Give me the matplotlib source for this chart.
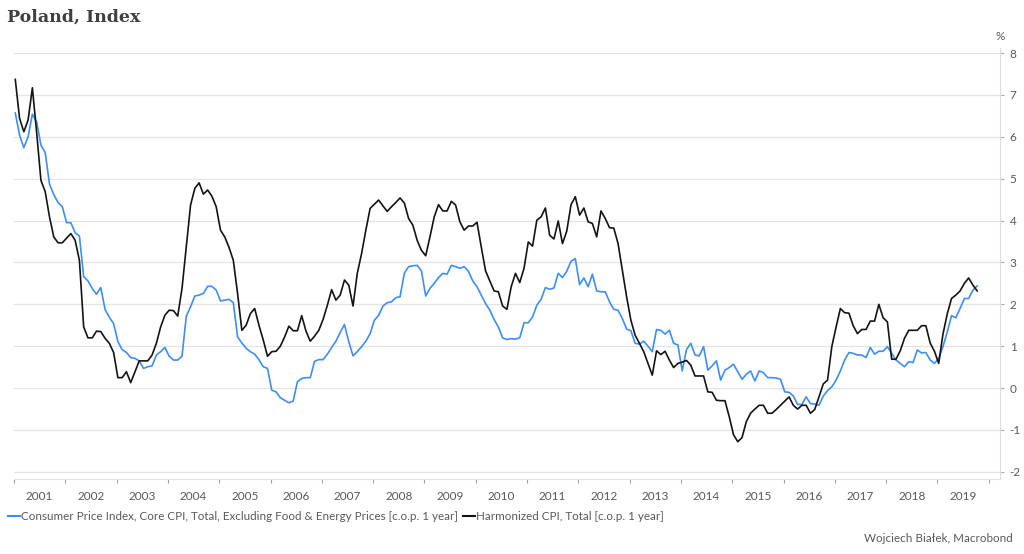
import numpy as np
import matplotlib
matplotlib.use("Agg")
import matplotlib.pyplot as plt
from matplotlib.lines import Line2D

plt.rcParams['axes.unicode_minus'] = False

# monthly values, Jan 2001 onwards
core_cpi = [
    6.57, 6.04, 5.74, 6.00, 6.54, 6.36, 5.80, 5.62, 4.87, 4.62, 4.43, 4.33,
    3.95, 3.95, 3.71, 3.63, 2.66, 2.56, 2.38, 2.24, 2.40, 1.88, 1.69, 1.54,
    1.11, 0.92, 0.85, 0.73, 0.71, 0.65, 0.47, 0.51, 0.53, 0.79, 0.87, 0.97,
    0.76, 0.67, 0.67, 0.76, 1.72, 1.94, 2.20, 2.22, 2.26, 2.43, 2.43, 2.34,
    2.08, 2.10, 2.12, 2.04, 1.22, 1.08, 0.95, 0.87, 0.81, 0.68, 0.51, 0.47,
    -0.05, -0.09, -0.23, -0.29, -0.35, -0.31, 0.15, 0.23, 0.25, 0.25, 0.64, 0.68,
    0.68, 0.81, 0.97, 1.12, 1.33, 1.52, 1.11, 0.77, 0.87, 0.99, 1.12, 1.30,
    1.62, 1.74, 1.96, 2.04, 2.06, 2.16, 2.18, 2.74, 2.90, 2.92, 2.93, 2.80,
    2.20, 2.38, 2.50, 2.64, 2.74, 2.72, 2.93, 2.90, 2.86, 2.90, 2.79, 2.56,
    2.42, 2.22, 2.02, 1.86, 1.64, 1.46, 1.20, 1.16, 1.18, 1.17, 1.20, 1.56,
    1.56, 1.70, 1.98, 2.12, 2.40, 2.36, 2.39, 2.74, 2.64, 2.79, 3.03, 3.09,
    2.47, 2.63, 2.42, 2.72, 2.32, 2.30, 2.30, 2.06, 1.88, 1.86, 1.66, 1.41,
    1.37, 1.07, 1.05, 1.12, 1.00, 0.87, 1.40, 1.38, 1.29, 1.38, 1.07, 1.03,
    0.41, 0.92, 1.07, 0.79, 0.77, 0.99, 0.43, 0.53, 0.65, 0.19, 0.43, 0.49,
    0.57, 0.39, 0.21, 0.33, 0.41, 0.17, 0.41, 0.37, 0.25, 0.25, 0.24, 0.21,
    -0.09, -0.10, -0.19, -0.39, -0.39, -0.21, -0.37, -0.38, -0.41, -0.19, -0.06, 0.03,
    0.19, 0.41, 0.67, 0.85, 0.83, 0.79, 0.79, 0.73, 0.97, 0.81, 0.88, 0.88,
    0.99, 0.83, 0.67, 0.59, 0.51, 0.63, 0.61, 0.91, 0.84, 0.85, 0.67, 0.59,
    0.71, 0.99, 1.34, 1.73, 1.68, 1.90, 2.14, 2.14, 2.34, 2.44,
]

hicp = [
    7.37, 6.44, 6.12, 6.40, 7.17, 6.10, 4.96, 4.69, 4.09, 3.61, 3.47, 3.47,
    3.58, 3.69, 3.53, 3.05, 1.46, 1.20, 1.20, 1.36, 1.35, 1.19, 1.07, 0.85,
    0.25, 0.25, 0.39, 0.13, 0.39, 0.65, 0.65, 0.65, 0.79, 1.07, 1.46, 1.74,
    1.86, 1.85, 1.72, 2.38, 3.37, 4.37, 4.77, 4.90, 4.63, 4.73, 4.58, 4.33,
    3.77, 3.61, 3.36, 3.05, 2.26, 1.38, 1.50, 1.78, 1.90, 1.50, 1.15, 0.76,
    0.87, 0.88, 1.00, 1.22, 1.48, 1.37, 1.37, 1.73, 1.36, 1.12, 1.24, 1.38,
    1.64, 1.98, 2.35, 2.10, 2.22, 2.58, 2.46, 1.96, 2.74, 3.21, 3.77, 4.29,
    4.39, 4.49, 4.35, 4.22, 4.33, 4.43, 4.54, 4.42, 4.05, 3.89, 3.53, 3.29,
    3.16, 3.61, 4.09, 4.38, 4.23, 4.23, 4.46, 4.37, 3.97, 3.77, 3.87, 3.87,
    3.96, 3.37, 2.80, 2.56, 2.32, 2.30, 1.96, 1.88, 2.42, 2.74, 2.52, 2.86,
    3.49, 3.39, 4.01, 4.09, 4.30, 3.65, 3.56, 3.99, 3.45, 3.75, 4.38, 4.57,
    4.13, 4.30, 3.97, 3.93, 3.61, 4.23, 4.05, 3.83, 3.82, 3.45, 2.82, 2.18,
    1.62, 1.26, 1.07, 0.87, 0.59, 0.31, 0.89, 0.80, 0.88, 0.67, 0.49, 0.59,
    0.62, 0.66, 0.55, 0.29, 0.29, 0.29, -0.09, -0.10, -0.29, -0.30, -0.30, -0.68,
    -1.11, -1.28, -1.18, -0.80, -0.60, -0.50, -0.41, -0.41, -0.60, -0.60, -0.51, -0.41,
    -0.31, -0.21, -0.41, -0.50, -0.41, -0.41, -0.60, -0.51, -0.21, 0.10, 0.19, 0.99,
    1.46, 1.90, 1.80, 1.79, 1.49, 1.30, 1.40, 1.40, 1.60, 1.60, 2.00, 1.68,
    1.58, 0.69, 0.69, 0.89, 1.19, 1.38, 1.38, 1.38, 1.49, 1.49, 1.08, 0.88,
    0.59, 1.29, 1.77, 2.14, 2.22, 2.32, 2.50, 2.63, 2.46, 2.32,
]

years = list(range(2001, 2020))
start_year = 2001

core_label = "Consumer Price Index, Core CPI, Total, Excluding Food & Energy Prices [c.o.p. 1 year]"
hicp_label = "Harmonized CPI, Total [c.o.p. 1 year]"

BLUE = '#3f8ef0'
BLACK = '#141414'
GREY = '#595959'
GRID = '#e4e4e4'
FONT = ['Lato', 'DejaVu Sans']

# decimal-year position of each monthly observation
t_core = start_year + (np.arange(len(core_cpi)) + 0.3) / 12
t_hicp = start_year + (np.arange(len(hicp)) + 0.3) / 12

fig = plt.figure(figsize=(10.24, 5.54), dpi=100)
ax = fig.add_axes([14 / 1024, 75 / 554, 986 / 1024, 431 / 554])

ax.plot(t_core, core_cpi, color=BLUE, lw=1.2)
ax.plot(t_hicp, hicp, color=BLACK, lw=1.2)

ax.set_xlim(2001, 2020.22)
ax.set_ylim(-2.17, 8.12)

# y axis on the right
ax.yaxis.tick_right()
ax.set_yticks(range(-2, 9))
ax.tick_params(axis='y', length=3, width=0.8, color='#b0b0b0', pad=4,
               labelsize=8.5, labelcolor=GREY)
ax.grid(axis='y', color=GRID, lw=0.9)
ax.set_axisbelow(True)

# year ticks at boundaries, labels in the middle of each year
ax.set_xticks(range(2001, 2021))
ax.set_xticklabels([])
ax.set_xticks([y + 0.5 for y in years], minor=True)
ax.set_xticklabels([str(y) for y in years], minor=True)
ax.tick_params(axis='x', which='major', length=3, width=0.8, color='#a0a0a0', pad=2)
ax.tick_params(axis='x', which='minor', length=0, pad=9, labelsize=8.5, labelcolor=GREY)

for lab in ax.get_xticklabels(minor=True) + ax.get_yticklabels():
    lab.set_family(FONT)

for side in ['left', 'top']:
    ax.spines[side].set_visible(False)
ax.spines['right'].set_color('#dcdcdc')
ax.spines['bottom'].set_color('#e4e4e4')

fig.text(7 / 1024, 1 - 17 / 554, 'Poland, Index', family='DejaVu Serif',
         fontweight='bold', fontsize=12.5, color='#404040', va='center')
fig.text(1000 / 1024, 1 - 36 / 554, '%', family=FONT, fontsize=8.5,
         color=GREY, ha='center', va='center')

handles = [Line2D([], [], color=BLUE, lw=1.5), Line2D([], [], color=BLACK, lw=1.5)]
fig.legend(handles, [core_label, hicp_label], loc='center left',
           bbox_to_anchor=(0.0, 1 - 517 / 554), ncol=2, frameon=False,
           handlelength=1.0, handletextpad=0.15, columnspacing=0.4,
           prop={'family': FONT, 'size': 8.35}, labelcolor=GREY, borderaxespad=0.3)

fig.text(1013 / 1024, 1 - 538 / 554, 'Wojciech Białek, Macrobond', family=FONT,
         fontsize=8.35, color=GREY, ha='right', va='center')

fig.savefig('out.png', dpi=100)
